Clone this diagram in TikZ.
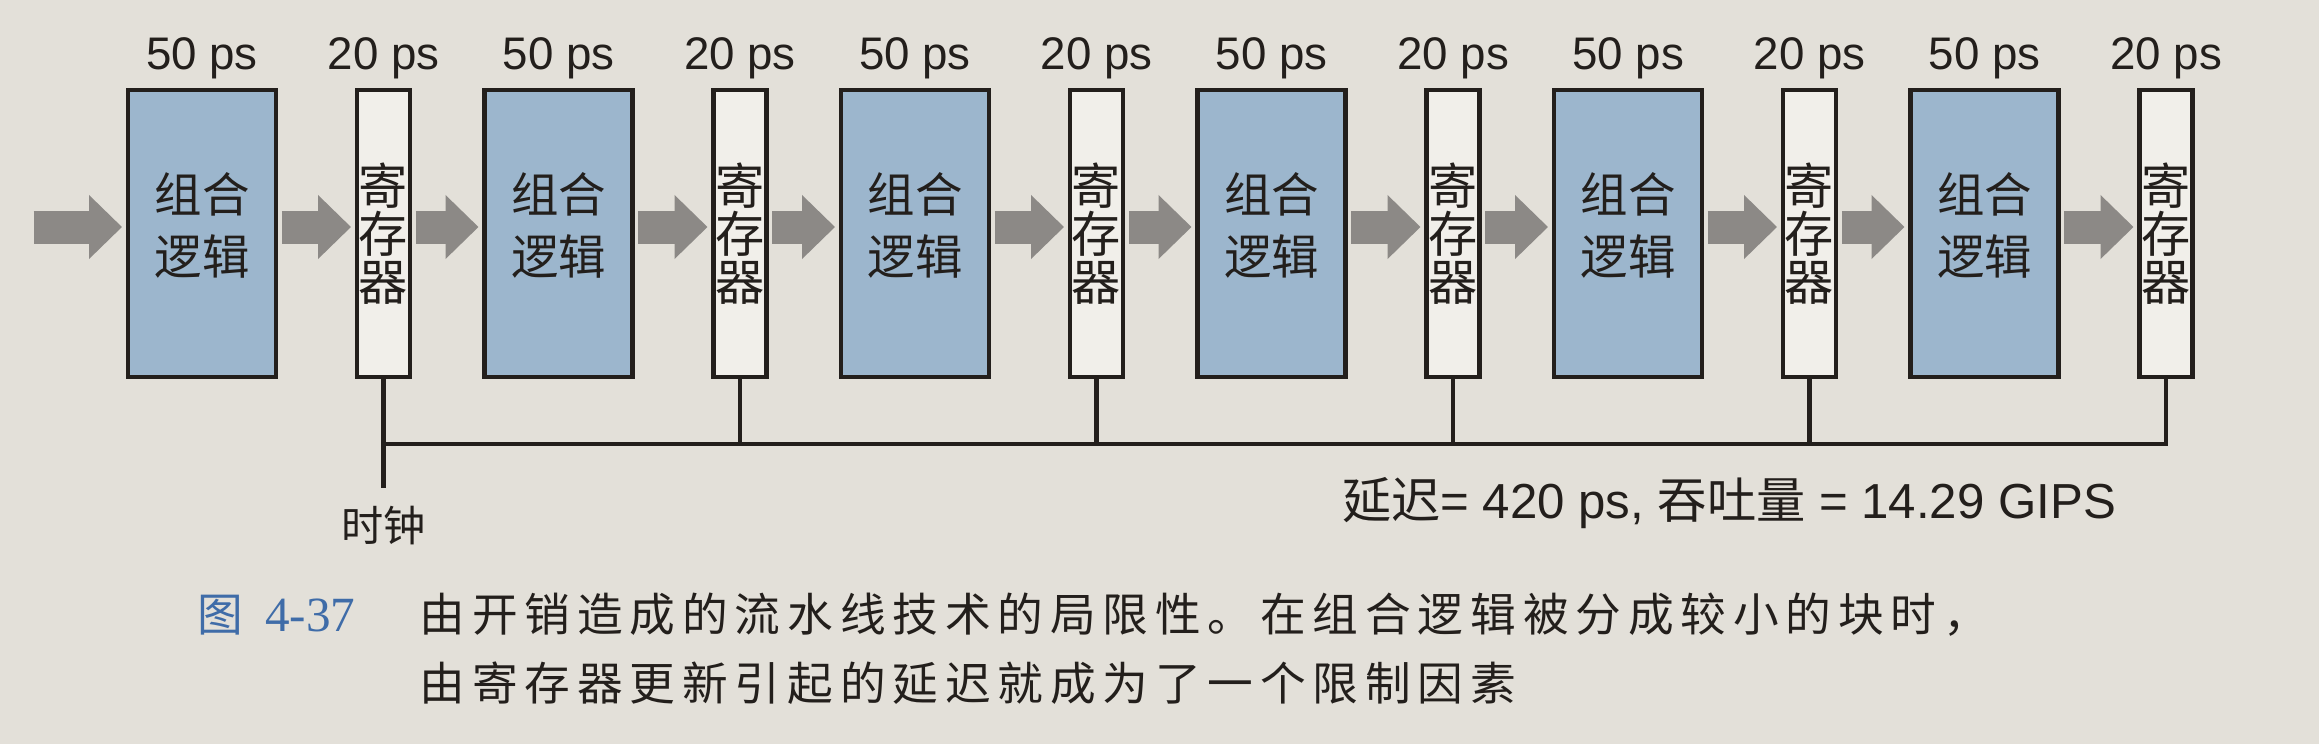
\documentclass[tikz,border=0pt]{standalone}
\usepackage{fontspec}
\setmainfont{Liberation Sans}
\newfontfamily\cjk{Noto Sans CJK SC}
\newfontfamily\capcjk{Noto Sans CJK SC}[LetterSpace=15]
\newfontfamily\capnum{Liberation Serif}
\usepackage{xcolor}
\usepackage{tikz}
\usetikzlibrary{arrows.meta,positioning}
\definecolor{paper}{HTML}{E3E0D9}
\definecolor{logicblue}{HTML}{9CB6CD}
\definecolor{regfill}{HTML}{F1EFEA}
\definecolor{flowgray}{HTML}{8C8986}
\definecolor{ink}{HTML}{231F1C}
\definecolor{tagblue}{HTML}{3F6CA8}

\begin{document}
\begin{tikzpicture}[
    logic/.style={rectangle, draw=ink, line width=1.4pt, fill=logicblue, minimum width=1.48cm, minimum height=2.87cm, inner sep=0pt, text depth=0.2cm, align=center, text=ink, font=\cjk\fontsize{13.5}{17.6}\selectfont, label={[tlab]above:50 ps}},
    reg/.style={rectangle, draw=ink, line width=1.4pt, fill=regfill, minimum width=0.53cm, minimum height=2.87cm, inner sep=0pt, align=center, text=ink, font=\cjk\fontsize{14}{13.6}\selectfont, label={[tlab]above:20 ps}},
    tlab/.style={inner sep=0pt, label distance=0.08cm, text=ink, font=\fontsize{13}{15}\selectfont},
    flow/.style={draw=flowgray, line width=0.33cm, -{Triangle[length=0.33cm, width=0.62cm]}, shorten <=0.035cm, shorten >=0.035cm},
    wire/.style={draw=ink, line width=1.2pt},
    cklab/.style={inner sep=0pt, text=ink, font=\cjk\fontsize{12}{14}\selectfont},
    reslab/.style={inner sep=0pt, text=ink, font=\fontsize{14}{16}\selectfont},
    captext/.style={inner sep=0pt, anchor=base west, text=ink, font=\capcjk\fontsize{13}{19.6}\selectfont},
    captag/.style={inner sep=0pt, anchor=base west, text=tagblue, font=\fontsize{13}{19.6}\selectfont}
]
    \fill[paper] (0,0) rectangle (23.19,-7.44);
    \useasboundingbox (0,0) rectangle (23.19,-7.44);

    % Stages
    \node[logic] (lg1) at (2.02,-2.335) {组合\\逻辑};
    \node[reg] (rg1) at (3.835,-2.335) {寄\\存\\器};
    \node[logic] (lg2) at (5.585,-2.335) {组合\\逻辑};
    \node[reg] (rg2) at (7.40,-2.335) {寄\\存\\器};
    \node[logic] (lg3) at (9.15,-2.335) {组合\\逻辑};
    \node[reg] (rg3) at (10.965,-2.335) {寄\\存\\器};
    \node[logic] (lg4) at (12.715,-2.335) {组合\\逻辑};
    \node[reg] (rg4) at (14.53,-2.335) {寄\\存\\器};
    \node[logic] (lg5) at (16.28,-2.335) {组合\\逻辑};
    \node[reg] (rg5) at (18.095,-2.335) {寄\\存\\器};
    \node[logic] (lg6) at (19.845,-2.335) {组合\\逻辑};
    \node[reg] (rg6) at (21.66,-2.335) {寄\\存\\器};

    % Data flow
    \coordinate (in) at (0.30,-2.27);
    \draw[flow] (in) -- ([yshift=.065cm]lg1.west);
    \draw[flow] ([yshift=.065cm]lg1.east) -- ([yshift=.065cm]rg1.west);
    \draw[flow] ([yshift=.065cm]rg1.east) -- ([yshift=.065cm]lg2.west);
    \draw[flow] ([yshift=.065cm]lg2.east) -- ([yshift=.065cm]rg2.west);
    \draw[flow] ([yshift=.065cm]rg2.east) -- ([yshift=.065cm]lg3.west);
    \draw[flow] ([yshift=.065cm]lg3.east) -- ([yshift=.065cm]rg3.west);
    \draw[flow] ([yshift=.065cm]rg3.east) -- ([yshift=.065cm]lg4.west);
    \draw[flow] ([yshift=.065cm]lg4.east) -- ([yshift=.065cm]rg4.west);
    \draw[flow] ([yshift=.065cm]rg4.east) -- ([yshift=.065cm]lg5.west);
    \draw[flow] ([yshift=.065cm]lg5.east) -- ([yshift=.065cm]rg5.west);
    \draw[flow] ([yshift=.065cm]rg5.east) -- ([yshift=.065cm]lg6.west);
    \draw[flow] ([yshift=.065cm]lg6.east) -- ([yshift=.065cm]rg6.west);

    % Clock
    \coordinate (bus) at (0,-4.44);
    \coordinate (ck) at (3.835,-4.88);
    \draw[wire] (rg1.south) -- (ck);
    \draw[wire] (rg1.south |- bus) -- (rg6.south |- bus) -- (rg6.south);
    \draw[wire] (rg2.south) -- (rg2.south |- bus);
    \draw[wire] (rg3.south) -- (rg3.south |- bus);
    \draw[wire] (rg4.south) -- (rg4.south |- bus);
    \draw[wire] (rg5.south) -- (rg5.south |- bus);
    \node[cklab, below=0.17cm of ck] (cklbl) {时钟};

    \node[reslab] (res) at (17.29,-5.03) {{\cjk 延迟}= 420 ps, {\cjk 吞吐量} = 14.29 GIPS};

    % Caption
    \node[captag] (ctag) at (1.97,-6.31) {{\cjk 图}\hspace{0.22cm}{\capnum\fontsize{14}{19.6}\selectfont 4-37}};
    \node[captext] (cap1) at (4.19,-6.31) {由开销造成的流水线技术的局限性。在组合逻辑被分成较小的块时，};
    \node[captext] (cap2) at ([yshift=-0.69cm]cap1.base west) {由寄存器更新引起的延迟就成为了一个限制因素};
\end{tikzpicture}
\end{document}
